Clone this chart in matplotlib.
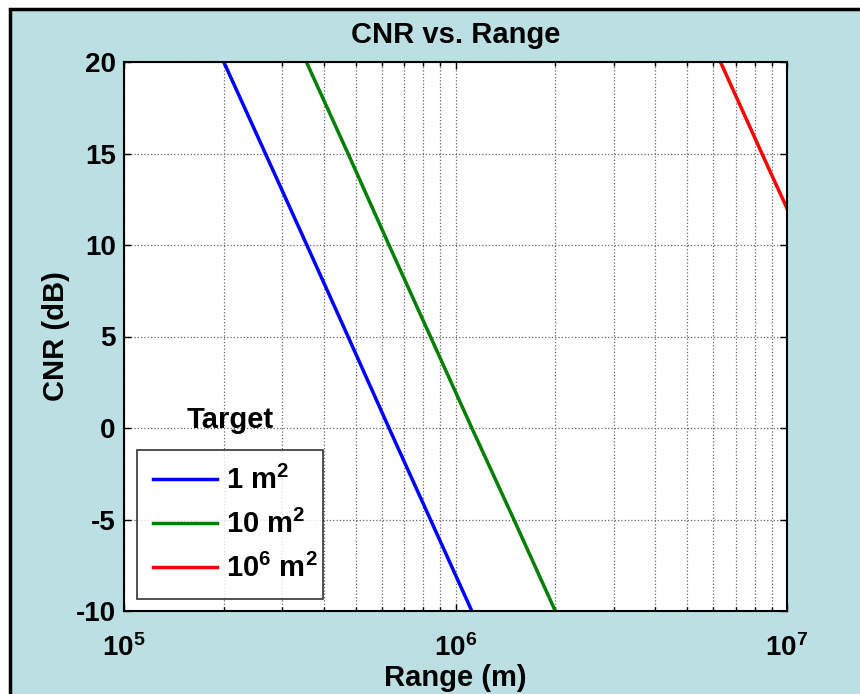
import numpy as np
import matplotlib
matplotlib.use('Agg')
import matplotlib.pyplot as plt
from matplotlib.patches import Rectangle
from matplotlib.ticker import LogLocator, NullFormatter, FixedLocator, FixedFormatter

plt.rcParams['font.family'] = 'Liberation Sans'
plt.rcParams['font.weight'] = 'bold'
plt.rcParams['mathtext.fontset'] = 'custom'
plt.rcParams['mathtext.rm'] = 'Liberation Sans:bold'
plt.rcParams['mathtext.it'] = 'Liberation Sans:bold'
plt.rcParams['mathtext.bf'] = 'Liberation Sans:bold'
plt.rcParams['mathtext.default'] = 'rm'
plt.rcParams['axes.unicode_minus'] = False

# values
range_1m = [2.0e5, 2.67e5, 3.56e5, 4.74e5, 6.3e5, 8.4e5, 1.12e6]
cnr_1m = [20, 15, 10, 5, 0, -5, -10]
range_10m = [3.55e5, 4.74e5, 6.3e5, 8.4e5, 1.12e6, 1.5e6, 2.0e6]
cnr_10m = [20, 15, 10, 5, 0, -5, -10]
range_1e6m = [6.3e6, 8.4e6, 1.0e7]
cnr_1e6m = [20, 15, 12]

labels = ['1 m$^2$', '10 m$^2$', '10$^6$ m$^2$']
xticks = [1e5, 1e6, 1e7]
xticklabels = ['10$^5$', '10$^6$', '10$^7$']
yticks = [-10, -5, 0, 5, 10, 15, 20]

bg = '#BBDFE2'

fig = plt.figure(figsize=(8.6, 6.94), dpi=100, facecolor='white')
# figure panel with black border
fig.patches.append(Rectangle((10/860, -0.05), 1.0, 1 - 9/694 + 0.05,
                             transform=fig.transFigure, facecolor=bg,
                             edgecolor='black', linewidth=2.5, zorder=-10))

ax = fig.add_axes([124/860, 1 - 611/694, 663/860, 549/694])
ax.plot(range_1m, cnr_1m, color='#0000FF', lw=2.5, label=labels[0])
ax.plot(range_10m, cnr_10m, color='#007F00', lw=2.5, label=labels[1])
ax.plot(range_1e6m, cnr_1e6m, color='#FF0000', lw=2.5, label=labels[2])

ax.set_xscale('log')
ax.set_xlim(1e5, 1e7)
ax.set_ylim(-10, 20)
ax.xaxis.set_major_locator(FixedLocator(xticks))
ax.xaxis.set_major_formatter(FixedFormatter(xticklabels))
ax.xaxis.set_minor_locator(LogLocator(base=10, subs=np.arange(2, 10)))
ax.xaxis.set_minor_formatter(NullFormatter())
ax.set_yticks(yticks)
ax.tick_params(which='both', direction='in', top=True, right=True,
               labelsize=20, width=1, colors='black')
ax.tick_params(which='major', length=5)
ax.tick_params(which='minor', length=3)
ax.tick_params(axis='y', pad=6)
ax.tick_params(axis='x', pad=17)
ax.grid(True, which='both', axis='x', linestyle=':', color='#666666', lw=0.9)
ax.grid(True, which='major', axis='y', linestyle=':', color='#666666', lw=0.9)
for s in ax.spines.values():
    s.set_linewidth(1.5)

ax.set_title('CNR vs. Range', fontsize=21, fontweight='bold', pad=14)
ax.set_xlabel('Range (m)', fontsize=21, fontweight='bold', labelpad=1)
ax.set_ylabel('CNR (dB)', fontsize=21, fontweight='bold', labelpad=4)

leg = ax.legend(loc='lower left', bbox_to_anchor=(0.0196, 0.022, 0.281, 0.271),
                mode='expand', fontsize=21, frameon=True, fancybox=False,
                handlelength=2.2, borderaxespad=0, labelspacing=0.5,
                handletextpad=0.3, borderpad=0.55)
leg.get_frame().set_edgecolor('black')
leg.get_frame().set_linewidth(1.2)
ax.text(0.16, 0.348, 'Target', transform=ax.transAxes, ha='center',
        va='center', fontsize=21, fontweight='bold')

fig.savefig('out.png', dpi=100, facecolor=fig.get_facecolor())
